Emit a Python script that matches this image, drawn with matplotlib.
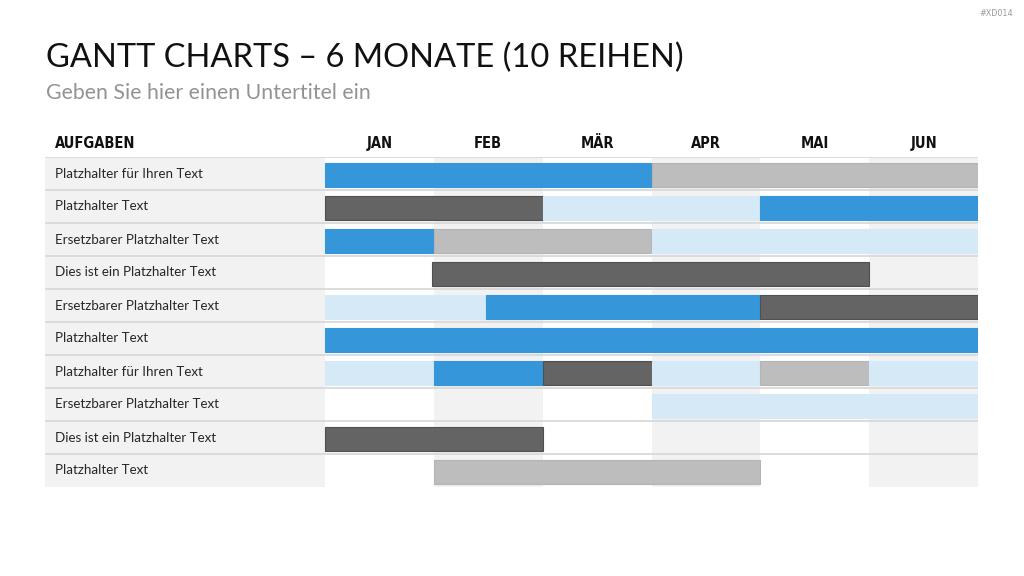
import matplotlib
matplotlib.use("Agg")
import matplotlib.pyplot as plt

# ── Data ────────────────────────────────────────────────────
TITLE = "GANTT CHARTS – 6 MONATE (10 REIHEN)"
SUBTITLE = "Geben Sie hier einen Untertitel ein"
TAG = "#XD014"
HEADER = "AUFGABEN"

months = ["JAN", "FEB", "MÄR", "APR", "MAI", "JUN"]
tasks = [
    "Platzhalter für Ihren Text",
    "Platzhalter Text",
    "Ersetzbarer Platzhalter Text",
    "Dies ist ein Platzhalter Text",
    "Ersetzbarer Platzhalter Text",
    "Platzhalter Text",
    "Platzhalter für Ihren Text",
    "Ersetzbarer Platzhalter Text",
    "Dies ist ein Platzhalter Text",
    "Platzhalter Text",
]
# (start month, end month, kind) for each task
segments = [
    [(0, 3, "blue"), (3, 6, "grey")],
    [(0, 2, "dark"), (2, 4, "pale"), (4, 6, "blue")],
    [(0, 1, "blue"), (1, 3, "grey"), (3, 6, "pale")],
    [(0.98, 5, "dark")],
    [(0, 1.48, "pale"), (1.48, 4, "blue"), (4, 6, "dark")],
    [(0, 6, "blue")],
    [(0, 1, "pale"), (1, 2, "blue"), (2, 3, "dark"), (3, 4, "pale"), (4, 5, "grey"), (5, 6, "pale")],
    [(3, 6, "pale")],
    [(0, 2, "dark")],
    [(1, 4, "grey")],
]

COLORS = {"blue": "#3597DA", "dark": "#646464", "grey": "#BDBDBD", "pale": "#D6E9F6"}
EDGES = {"blue": "#3597DA", "dark": "#505050", "grey": "#B4B4B4", "pale": "#D6E9F6"}

# ── Layout (pixel positions of the table) ───────────────────
W, H = 1024, 576
left_px, label_px, right_px = 45, 325, 978
top_px, bot_px = 157, 487

fig = plt.figure(figsize=(W / 100, H / 100), dpi=100)
ax = fig.add_axes([left_px / W, 1 - bot_px / H,
                   (right_px - left_px) / W, (bot_px - top_px) / H])

n_rows = len(tasks)
col_w = (right_px - label_px) / len(months)
x0 = -(label_px - left_px) / col_w
ax.set_xlim(x0, len(months))
ax.set_ylim(n_rows, 0)
ax.axis("off")

# backgrounds: label column + alternating month columns
ax.axvspan(x0, 0, color="#F2F2F2", lw=0, zorder=0)
for i in range(len(months)):
    if i % 2 == 1:
        ax.axvspan(i, i + 1, color="#F2F2F2", lw=0, zorder=0)

# row separators
for r in range(n_rows):
    ax.axhline(r, color="#D9D9D9", lw=1.3, zorder=1)

# bars
for r, segs in enumerate(segments):
    for s, e, kind in segs:
        ax.barh(r + 0.54, e - s, left=s, height=0.71,
                color=COLORS[kind], edgecolor=EDGES[kind], lw=0.8, zorder=2)

# task labels
pad = 10 / col_w
for r, task in enumerate(tasks):
    ax.text(x0 + pad, r + 0.5, task, va="center", ha="left",
            fontsize=9.6, family="Lato", color="#262626")

# header row
head_y = -(top_px - 148) / 33
hdr = dict(va="baseline", fontsize=10.5, family="DejaVu Sans",
           fontstretch="condensed", weight="bold", color="#111111")
ax.text(x0 + pad, head_y, HEADER, ha="left", **hdr)
for i, m in enumerate(months):
    ax.text(i + 0.5, head_y, m, ha="center", **hdr)

# titles
fig.text(46 / W, 1 - 67 / H, TITLE, va="baseline", ha="left",
         fontsize=23.5, family="Lato", color="#111111")
fig.text(46 / W, 1 - 99 / H, SUBTITLE, va="baseline", ha="left",
         fontsize=15.3, family="Lato", color="#939393")
fig.text(1013 / W, 1 - 16 / H, TAG, va="baseline", ha="right",
         fontsize=6.5, family="DejaVu Sans", fontstretch="condensed", color="#9A9A9A")

fig.savefig("out.png", dpi=100)
